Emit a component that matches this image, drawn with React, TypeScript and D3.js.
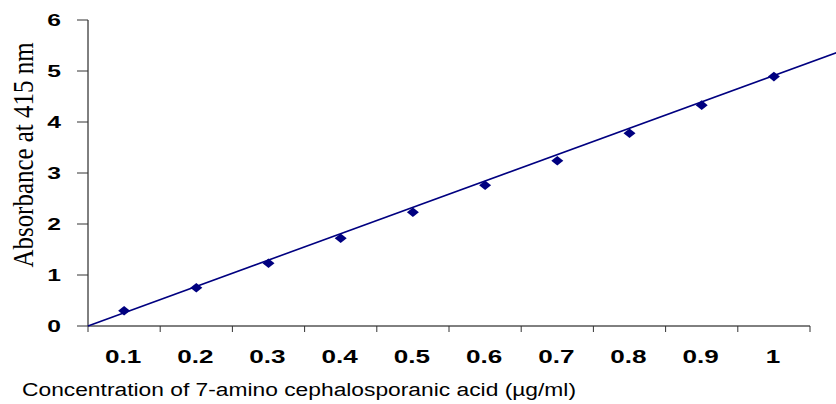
import React, { useEffect, useRef } from "react";
import * as d3 from "d3";

// concentration (µg/ml) categories and measured absorbance at 415 nm
const concLabels = ["0.1", "0.2", "0.3", "0.4", "0.5", "0.6", "0.7", "0.8", "0.9", "1"];
const absorbance = [0.3, 0.75, 1.23, 1.72, 2.23, 2.76, 3.24, 3.78, 4.33, 4.89];
const yTicks = [0, 1, 2, 3, 4, 5, 6];
// linear trendline (x = category index 1..10)
const trendSlope = 0.517;
const trendIntercept = -0.258;
const trendRange = [0.5, 11.2];

const App = () => {
    const container = useRef<HTMLDivElement>(null);

    useEffect(() => {
        const el = container.current;
        if (!el) return;
        el.innerHTML = "";

        const W = 836, H = 404;
        const left = 88, right = 810, top = 20, bottom = 326;
        const navy = "#000080";

        const svg = d3.select(el)
            .append("svg")
            .attr("width", W)
            .attr("height", H)
            .style("position", "absolute")
            .style("left", "0px")
            .style("top", "0px")
            .style("background", "#fff");

        const x = d3.scaleBand().domain(concLabels).range([left, right]).padding(0);
        const xIdx = d3.scaleLinear().domain([0.5, concLabels.length + 0.5]).range([left, right]);
        const y = d3.scaleLinear().domain([0, 6]).range([bottom, top]);

        // y axis
        svg.append("line")
            .attr("x1", left).attr("x2", left)
            .attr("y1", y(6)).attr("y2", bottom)
            .attr("stroke", "#000");
        svg.selectAll("ytick")
            .data(yTicks)
            .enter()
            .append("line")
            .attr("x1", left - 11).attr("x2", left)
            .attr("y1", d => y(d)).attr("y2", d => y(d))
            .attr("stroke", "#333");
        svg.selectAll("ylabel")
            .data(yTicks)
            .enter()
            .append("text")
            .attr("transform", d => `translate(61,${y(d) + 6}) scale(1.45,1)`)
            .attr("text-anchor", "end")
            .style("font-family", "Arial, 'Liberation Sans', sans-serif")
            .style("font-weight", "bold")
            .style("font-size", "17px")
            .text(d => d);

        // x axis
        svg.append("line")
            .attr("x1", left).attr("x2", right)
            .attr("y1", bottom).attr("y2", bottom)
            .attr("stroke", "#000");
        const bounds = concLabels.map(d => x(d) as number).concat([right]);
        svg.selectAll("xtick")
            .data(bounds)
            .enter()
            .append("line")
            .attr("x1", d => d).attr("x2", d => d)
            .attr("y1", bottom).attr("y2", bottom + 6)
            .attr("stroke", "#333");
        svg.selectAll("xlabel")
            .data(concLabels)
            .enter()
            .append("text")
            .attr("transform", d => `translate(${(x(d) as number) + x.bandwidth() / 2 - 1},363) scale(1.45,1)`)
            .attr("text-anchor", "middle")
            .style("font-family", "Arial, 'Liberation Sans', sans-serif")
            .style("font-weight", "bold")
            .style("font-size", "18px")
            .text(d => d);

        // axis titles
        svg.append("text")
            .attr("x", 22)
            .attr("y", 396)
            .attr("textLength", 554)
            .attr("lengthAdjust", "spacingAndGlyphs")
            .style("font-family", "Arial, 'Liberation Sans', sans-serif")
            .style("font-size", "18px")
            .text("Concentration of 7-amino cephalosporanic acid (µg/ml)");

        svg.append("text")
            .attr("transform", "translate(33,155) rotate(-90) scale(1.04,1.25)")
            .attr("text-anchor", "middle")
            .style("font-family", "'Times New Roman', 'Liberation Serif', serif")
            .style("font-size", "24px")
            .text("Absorbance at 415 nm");

        // trendline
        const trend = d3.line<number>()
            .x(d => xIdx(d))
            .y(d => y(trendSlope * d + trendIntercept));
        svg.append("path")
            .datum(trendRange)
            .attr("d", trend)
            .attr("fill", "none")
            .attr("stroke", navy)
            .attr("stroke-width", 1.6);

        // diamond markers
        svg.selectAll("marker")
            .data(absorbance)
            .enter()
            .append("path")
            .attr("transform", (d, i) => `translate(${(x(concLabels[i]) as number) + x.bandwidth() / 2},${y(d)})`)
            .attr("d", "M-6,0L0,-4.8L6,0L0,4.8Z")
            .attr("fill", navy);
    }, []);

    return (
        <div ref={container}></div>
    );
};

export default App;
